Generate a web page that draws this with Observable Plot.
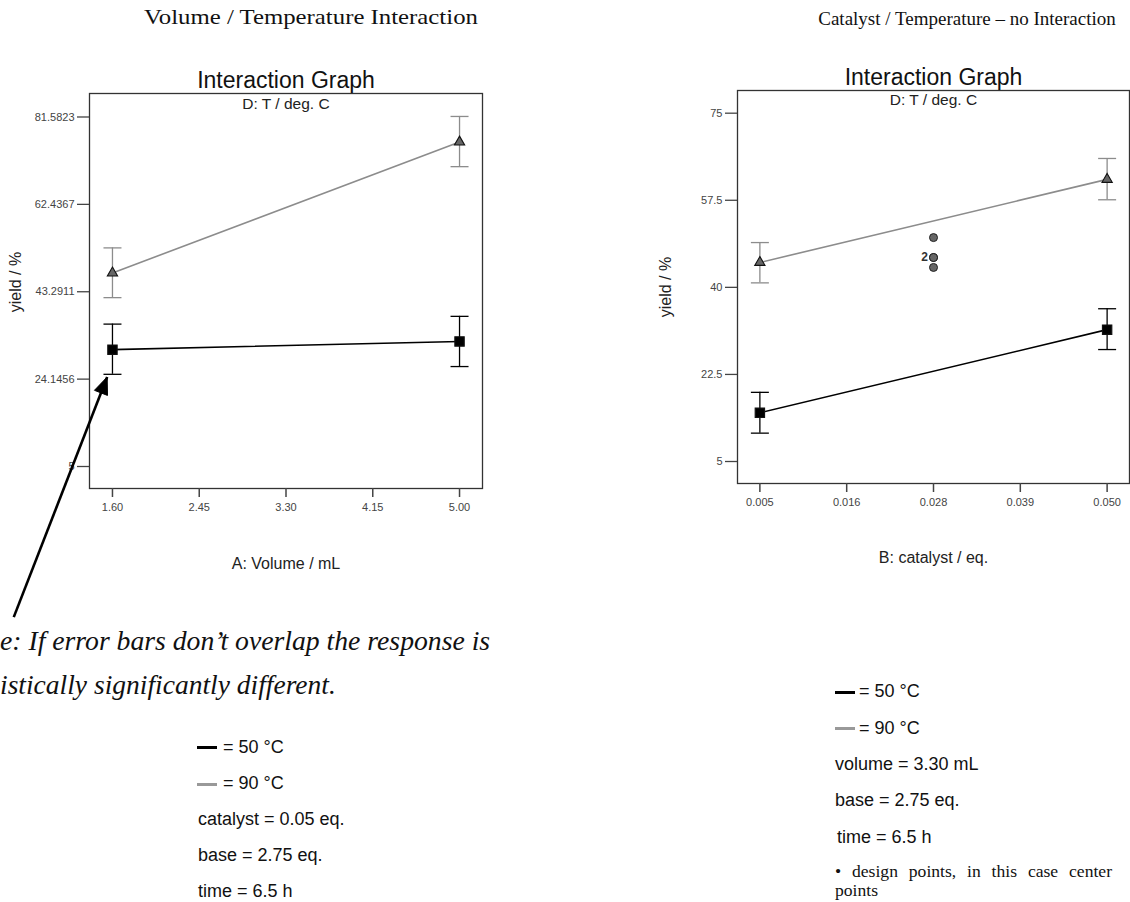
<!DOCTYPE html>
<html><head><meta charset="utf-8">
<script src="https://cdn.jsdelivr.net/npm/d3@7"></script>
<script src="https://cdn.jsdelivr.net/npm/@observablehq/plot@0.6"></script>
<style>
body{margin:0;background:#fff;}
#root{position:relative;width:1130px;height:902px;overflow:hidden;background:#fff;}
#root svg{position:absolute;top:0;}
.t{position:absolute;white-space:nowrap;}
</style></head><body><div id="root"></div>
<script>
// ---------- Data: Volume / Temperature panel ----------
const volLevels   = [1.60, 5.00];
const volYield50  = [30.6, 32.4];
const volLo50     = [25.2, 26.9];
const volHi50     = [36.2, 37.9];
const volYield90  = [47.4, 76.1];
const volLo90     = [42.0, 70.7];
const volHi90     = [52.9, 81.7];
const volXTicks   = [1.60, 2.45, 3.30, 4.15, 5.00];
const volXLabels  = ["1.60", "2.45", "3.30", "4.15", "5.00"];
const volYTicks   = [5, 24.1456, 43.2911, 62.4367, 81.5823];
const volYLabels  = ["5", "24.1456", "43.2911", "62.4367", "81.5823"];

// ---------- Data: Catalyst / Temperature panel ----------
const catLevels   = [0.005, 0.050];
const catYield50  = [14.8, 31.5];
const catLo50     = [10.7, 27.5];
const catHi50     = [18.9, 35.7];
const catYield90  = [45.0, 61.7];
const catLo90     = [40.9, 57.6];
const catHi90     = [49.0, 65.9];
const centerX     = [0.0275, 0.0275, 0.0275, 0.0275];
const centerYield = [50.0, 46.0, 46.0, 44.0];
const centerCountLabel = [{x: 0.0275, y: 46.0, text: "2"}];
const catXTicks   = [0.005, 0.01625, 0.0275, 0.03875, 0.050];
const catXLabels  = ["0.005", "0.016", "0.028", "0.039", "0.050"];
const catYTicks   = [5, 22.5, 40, 57.5, 75];
const catYLabels  = ["5", "22.5", "40", "57.5", "75"];

// annotation arrow (data coordinates of left panel)
const noteArrow = [{x1: 0.633, y1: -28.0, x2: 1.548, y2: 24.6}];

// ---------- styling ----------
const GRAY = "#8c8c8c";
const BLACK = "#000";
const SANS = "'Liberation Sans', Arial, sans-serif";
const SERIF = "'Liberation Serif', 'Times New Roman', serif";

const capSymbol = {draw(ctx) { ctx.moveTo(-9, 0); ctx.lineTo(9, 0); }};
const arrowAngle = 21.4 * Math.PI / 180;
const headSymbol = {draw(ctx) {
  const c = Math.cos(arrowAngle), s = Math.sin(arrowAngle);
  const pts = [[0, 0], [-7, 17], [7, 17]].map(([x, y]) => [x * c - y * s, x * s + y * c]);
  ctx.moveTo(pts[0][0], pts[0][1]); ctx.lineTo(pts[1][0], pts[1][1]); ctx.lineTo(pts[2][0], pts[2][1]); ctx.closePath();
}};

function rows(levels, y, lo, hi) {
  return levels.map((x, i) => ({x, y: y[i], lo: lo[i], hi: hi[i]}));
}

function seriesMarks(data, color, symbol, fill, r) {
  return [
    Plot.ruleX(data, {x: "x", y1: "lo", y2: "hi", stroke: color, strokeWidth: 1.3}),
    Plot.dot(data, {x: "x", y: "lo", symbol: capSymbol, r: 5, stroke: color, fill: "none", strokeWidth: 1.3}),
    Plot.dot(data, {x: "x", y: "hi", symbol: capSymbol, r: 5, stroke: color, fill: "none", strokeWidth: 1.3}),
    Plot.line(data, {x: "x", y: "y", stroke: color, strokeWidth: 1.6}),
    Plot.dot(data, {x: "x", y: "y", symbol, r, fill, stroke: "#111", strokeWidth: 1.1})
  ];
}

function panel(cfg) {
  const d50 = rows(cfg.levels, cfg.y50, cfg.lo50, cfg.hi50);
  const d90 = rows(cfg.levels, cfg.y90, cfg.lo90, cfg.hi90);
  return Plot.plot({
    width: cfg.width, height: cfg.height,
    marginLeft: cfg.ml, marginRight: cfg.mr, marginTop: cfg.mt, marginBottom: cfg.mb,
    x: {domain: cfg.xDomain},
    y: {domain: cfg.yDomain},
    style: {fontFamily: SANS, background: "transparent", overflow: "visible"},
    marks: [
      Plot.frame({stroke: "#333", strokeWidth: 1.3}),
      Plot.axisY({ticks: cfg.yTicks, tickFormat: d => cfg.yLabels[cfg.yTicks.indexOf(d)],
        tickSize: 12, tickPadding: 3, fontSize: 11, label: null, color: "#444", strokeWidth: 1.3}),
      Plot.axisX({ticks: cfg.xTicks, tickFormat: d => cfg.xLabels[cfg.xTicks.indexOf(d)],
        tickSize: 9, tickPadding: 6, fontSize: 11, label: null, color: "#444", strokeWidth: 1.5}),
      Plot.text(["Interaction Graph"], {text: d => d, frameAnchor: "top", dy: -6, lineAnchor: "bottom", fontSize: 23, fill: "#111"}),
      Plot.text(["D: T / deg. C"], {text: d => d, frameAnchor: "top", dy: cfg.subDy, lineAnchor: "top", fontSize: 15.5, fill: "#222"}),
      Plot.text([cfg.xLabel], {text: d => d, frameAnchor: "bottom", dy: cfg.xLabelDy, lineAnchor: "bottom", fontSize: 16, fill: "#222"}),
      Plot.text(["yield / %"], {text: d => d, frameAnchor: "left", textAnchor: "middle", rotate: -90, dx: cfg.yLabelDx, dy: cfg.yLabelDy, fontSize: 16, fill: "#222"}),
      ...(cfg.extra || []),
      ...seriesMarks(d90, GRAY, "triangle", "#666", 3.8),
      ...seriesMarks(d50, BLACK, "square", "#000", 5.3)
    ]
  });
}

const root = document.getElementById("root");

const left = panel({
  width: 560, height: 640, ml: 89, mr: 78, mt: 93, mb: 152,
  xDomain: [1.375, 5.225], yDomain: [0.18, 86.73],
  levels: volLevels, y50: volYield50, lo50: volLo50, hi50: volHi50,
  y90: volYield90, lo90: volLo90, hi90: volHi90,
  xTicks: volXTicks, xLabels: volXLabels, yTicks: volYTicks, yLabels: volYLabels,
  xLabel: "A: Volume / mL", xLabelDy: 80, yLabelDx: -74, yLabelDy: -9, subDy: 4,
  extra: [
    Plot.link(noteArrow, {x1: "x1", y1: "y1", x2: "x2", y2: "y2", stroke: "#000", strokeWidth: 2.6}),
    Plot.dot(noteArrow, {x: "x2", y: "y2", symbol: headSymbol, r: 5, fill: "#000", stroke: "#000", strokeWidth: 1})
  ]
});
left.style.left = "0px";
root.appendChild(left);

const right = panel({
  width: 570, height: 600, ml: 177, mr: 1, mt: 90, mb: 117,
  xDomain: [0.0021, 0.0529], yDomain: [0.58, 79.56],
  levels: catLevels, y50: catYield50, lo50: catLo50, hi50: catHi50,
  y90: catYield90, lo90: catLo90, hi90: catHi90,
  xTicks: catXTicks, xLabels: catXLabels, yTicks: catYTicks, yLabels: catYLabels,
  xLabel: "B: catalyst / eq.", xLabelDy: 79, yLabelDx: -72, yLabelDy: 0, subDy: 3,
  extra: [
    Plot.dot(centerX.map((x, i) => ({x, y: centerYield[i]})), {x: "x", y: "y", r: 4, fill: "#666", stroke: "#222", strokeWidth: 1}),
    Plot.text(centerCountLabel, {x: "x", y: "y", text: "text", dx: -9, fontSize: 12, fontWeight: "bold", fill: "#333"})
  ]
});
right.style.left = "560px";
root.appendChild(right);

// ---------- HTML text: titles, note, legends ----------
function addText(str, x, baseline, o = {}) {
  const size = o.size || 18;
  const serif = o.serif || false;
  const k = serif ? 0.8375 : 0.8465;
  const el = document.createElement("div");
  el.className = "t";
  el.textContent = str;
  el.style.fontFamily = serif ? SERIF : SANS;
  el.style.fontSize = size + "px";
  el.style.lineHeight = size + "px";
  el.style.top = (baseline - k * size) + "px";
  el.style.left = x + "px";
  el.style.color = o.color || "#111";
  if (o.italic) el.style.fontStyle = "italic";
  if (o.center) el.style.transform = "translateX(-50%)" + (o.sx ? ` scaleX(${o.sx})` : "");
  root.appendChild(el);
  return el;
}
function addSwatch(x, cy, color) {
  const el = document.createElement("div");
  el.style.cssText = `position:absolute;left:${x}px;top:${cy - 1.5}px;width:20px;height:3px;background:${color};`;
  root.appendChild(el);
}

addText("Volume / Temperature Interaction", 311, 25, {serif: true, size: 21, center: true, sx: 1.18});
addText("Catalyst / Temperature \u2013 no Interaction", 967, 25, {serif: true, size: 19, center: true});

addText("e: If error bars don\u2019t overlap the response is", 0, 650, {serif: true, italic: true, size: 27.7});
addText("istically significantly different.", 0, 694, {serif: true, italic: true, size: 27.5});

// left legend
const leftLegend = ["catalyst = 0.05 eq.", "base = 2.75 eq.", "time = 6.5 h"];
addSwatch(197, 747, "#000"); addText("= 50 \u00B0C", 223, 753);
addSwatch(197, 784, "#999"); addText("= 90 \u00B0C", 223, 789);
leftLegend.forEach((s, i) => addText(s, 198, 825 + 36 * i));

// right legend
const rightLegend = [["volume = 3.30 mL", 835], ["base = 2.75 eq.", 835], ["time = 6.5 h", 837]];
addSwatch(835, 692, "#000"); addText("= 50 \u00B0C", 859, 697);
addSwatch(835, 728, "#999"); addText("= 90 \u00B0C", 859, 734);
rightLegend.forEach(([s, x], i) => addText(s, x, 770 + 36.5 * i));

const bullet = document.createElement("div");
bullet.textContent = "\u2022 design points, in this case center points";
bullet.style.cssText = `position:absolute;left:835px;top:862px;width:277px;font-family:${SERIF};font-size:17.6px;line-height:19px;text-align:justify;color:#111;`;
root.appendChild(bullet);
</script></body></html>
